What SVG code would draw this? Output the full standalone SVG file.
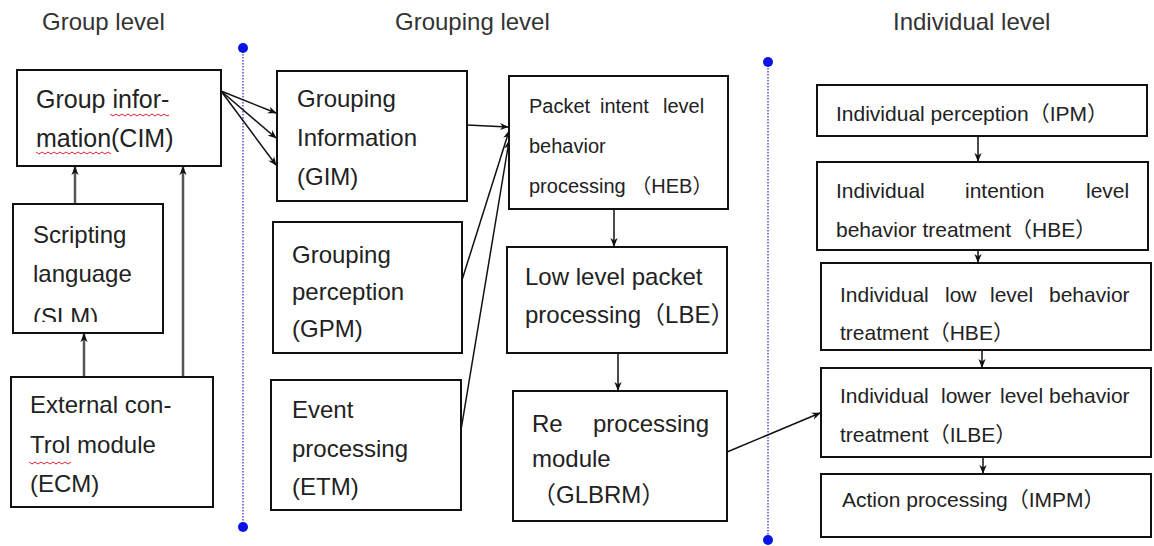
<svg xmlns="http://www.w3.org/2000/svg" width="1154" height="546" viewBox="0 0 1154 546">
<defs>
<style>
text{font-family:"Liberation Sans","Noto Sans CJK SC",sans-serif;fill:#222;}
.t{font-size:24px;fill:#333;}
.xl{font-size:25px;}
.l{font-size:24px;}
.m{font-size:20px;}
.s{font-size:21px;}
.box{fill:#fff;stroke:#111;stroke-width:2;}
.c{stroke:#111;stroke-width:1.5;fill:none;marker-end:url(#ah);}
.g{stroke:#555;stroke-width:2.5;fill:none;marker-end:url(#ah);}
.sep{stroke:#7a7ad8;stroke-width:2;stroke-dasharray:1.5 1.5;}
.dot{fill:#0a14e6;}
.sq{stroke:#d23;stroke-width:1;fill:none;}
</style>
<marker id="ah" viewBox="0 0 10 10" refX="9" refY="5" markerWidth="9" markerHeight="9" markerUnits="userSpaceOnUse" orient="auto">
<path d="M0,1 L10,5 L0,9 L3,5 Z" fill="#111"/>
</marker>
<clipPath id="slmclip"><rect x="13" y="204" width="150" height="118"/></clipPath>
</defs>
<rect width="1154" height="546" fill="#fff"/>

<g id="titles">
<text class="t" x="42" y="30">Group level</text>
<text class="t" x="395" y="30">Grouping level</text>
<text class="t" x="893" y="30">Individual level</text>
</g>

<g id="separators">
<line class="sep" x1="243" y1="48" x2="243" y2="527"/>
<circle class="dot" cx="243" cy="48" r="5"/>
<circle class="dot" cx="243" cy="527" r="5"/>
<line class="sep" x1="768" y1="62" x2="768" y2="540"/>
<circle class="dot" cx="768" cy="62" r="5"/>
<circle class="dot" cx="768" cy="540" r="5"/>
</g>

<g id="connectors">
<line class="g" x1="75" y1="204" x2="75" y2="167"/>
<line class="g" x1="84" y1="377" x2="84" y2="334"/>
<line class="g" x1="183" y1="377" x2="183" y2="167"/>
<line class="c" x1="221" y1="91" x2="276" y2="113"/>
<line class="c" x1="221" y1="91" x2="276" y2="138"/>
<line class="c" x1="221" y1="91" x2="276" y2="165"/>
<line class="c" x1="467" y1="125" x2="508" y2="127"/>
<line class="c" x1="462" y1="280" x2="509" y2="131"/>
<line class="c" x1="461" y1="430" x2="509" y2="141"/>
<line class="c" x1="614" y1="209" x2="614" y2="246"/>
<line class="c" x1="618" y1="353" x2="618" y2="390"/>
<line class="c" x1="727" y1="452" x2="820" y2="413"/>
<line class="c" x1="978" y1="136" x2="978" y2="161"/>
<line class="c" x1="978" y1="250" x2="978" y2="262"/>
<line class="c" x1="982" y1="350" x2="982" y2="367"/>
<line class="c" x1="983" y1="457" x2="983" y2="473"/>
</g>

<g id="CIM">
<rect class="box" x="17" y="70" width="204" height="96"/>
<text class="xl" x="36" y="108">Group infor-</text>
<text class="xl" x="36" y="147">mation(CIM)</text>
<path class="sq" d="M110,114 l3,2 l3,-2 l3,2 l3,-2 l3,2 l3,-2 l3,2 l3,-2 l3,2 l3,-2 l3,2 l3,-2 l3,2 l3,-2 l3,2 l3,-2 l3,2 l3,-2 l3,2 l2,-1"/>
<path class="sq" d="M36,152 l3,2 l3,-2 l3,2 l3,-2 l3,2 l3,-2 l3,2 l3,-2 l3,2 l3,-2 l3,2 l3,-2 l3,2 l3,-2 l3,2 l3,-2 l3,2 l3,-2 l3,2 l3,-2 l3,2 l3,-2 l3,2 l3,-2 l3,2"/>
</g>

<g id="SLM">
<rect class="box" x="13" y="204" width="150" height="129"/>
<text class="l" x="33" y="243">Scripting</text>
<text class="l" x="33" y="282">language</text>
<text class="l" x="33" y="325" clip-path="url(#slmclip)">(SLM)</text>
</g>

<g id="ECM">
<rect class="box" x="11" y="377" width="202" height="130"/>
<text class="l" x="30" y="413">External con-</text>
<text class="l" x="30" y="453">Trol module</text>
<text class="l" x="30" y="492">(ECM)</text>
<path class="sq" d="M29,462 l3,2 l3,-2 l3,2 l3,-2 l3,2 l3,-2 l3,2 l3,-2 l3,2 l3,-2 l3,2 l3,-2 l3,2 l3,-2"/>
</g>

<g id="GIM">
<rect class="box" x="277" y="71" width="190" height="130"/>
<text class="l" x="297" y="107">Grouping</text>
<text class="l" x="297" y="146">Information</text>
<text class="l" x="297" y="185">(GIM)</text>
</g>

<g id="GPM">
<rect class="box" x="273" y="222" width="189" height="131"/>
<text class="l" x="292" y="263">Grouping</text>
<text class="l" x="292" y="300">perception</text>
<text class="l" x="292" y="337">(GPM)</text>
</g>

<g id="ETM">
<rect class="box" x="271" y="380" width="190" height="130"/>
<text class="l" x="292" y="418">Event</text>
<text class="l" x="292" y="457">processing</text>
<text class="l" x="292" y="495">(ETM)</text>
</g>

<g id="HEB">
<rect class="box" x="509" y="76" width="219" height="133"/>
<text class="m" y="113"><tspan x="529">Packet</tspan><tspan x="600">intent</tspan><tspan x="663">level</tspan></text>
<text class="m" x="529" y="153">behavior</text>
<text class="m" x="529" y="193">processing （HEB）</text>
</g>

<g id="LBE">
<rect class="box" x="507" y="247" width="220" height="106"/>
<text class="l" x="525" y="285">Low level packet</text>
<text class="l" x="525" y="323">processing（LBE）</text>
</g>

<g id="GLBRM">
<rect class="box" x="513" y="391" width="214" height="130"/>
<text class="l" y="432"><tspan x="532">Re</tspan><tspan x="593">processing</tspan></text>
<text class="l" x="532" y="467">module</text>
<text class="l" x="532" y="503">（GLBRM）</text>
</g>

<g id="IPM">
<rect class="box" x="817" y="85" width="330" height="51"/>
<text class="s" x="836" y="121">Individual perception（IPM）</text>
</g>

<g id="HBE">
<rect class="box" x="817" y="162" width="331" height="88"/>
<text class="s" y="198"><tspan x="836">Individual</tspan><tspan x="965">intention</tspan><tspan x="1086">level</tspan></text>
<text class="s" x="836" y="237">behavior treatment（HBE）</text>
</g>

<g id="HBE2">
<rect class="box" x="821" y="263" width="330" height="87"/>
<text class="s" y="302"><tspan x="840">Individual</tspan><tspan x="945">low</tspan><tspan x="990">level</tspan><tspan x="1049">behavior</tspan></text>
<text class="s" x="840" y="340">treatment（HBE）</text>
</g>

<g id="ILBE">
<rect class="box" x="821" y="368" width="330" height="89"/>
<text class="s" y="403"><tspan x="840">Individual</tspan><tspan x="941">lower</tspan><tspan x="1000">level</tspan><tspan x="1049">behavior</tspan></text>
<text class="s" x="840" y="442">treatment（ILBE）</text>
</g>

<g id="IMPM">
<rect class="box" x="821" y="474" width="330" height="63"/>
<text class="s" x="842" y="507">Action processing（IMPM）</text>
</g>
</svg>
